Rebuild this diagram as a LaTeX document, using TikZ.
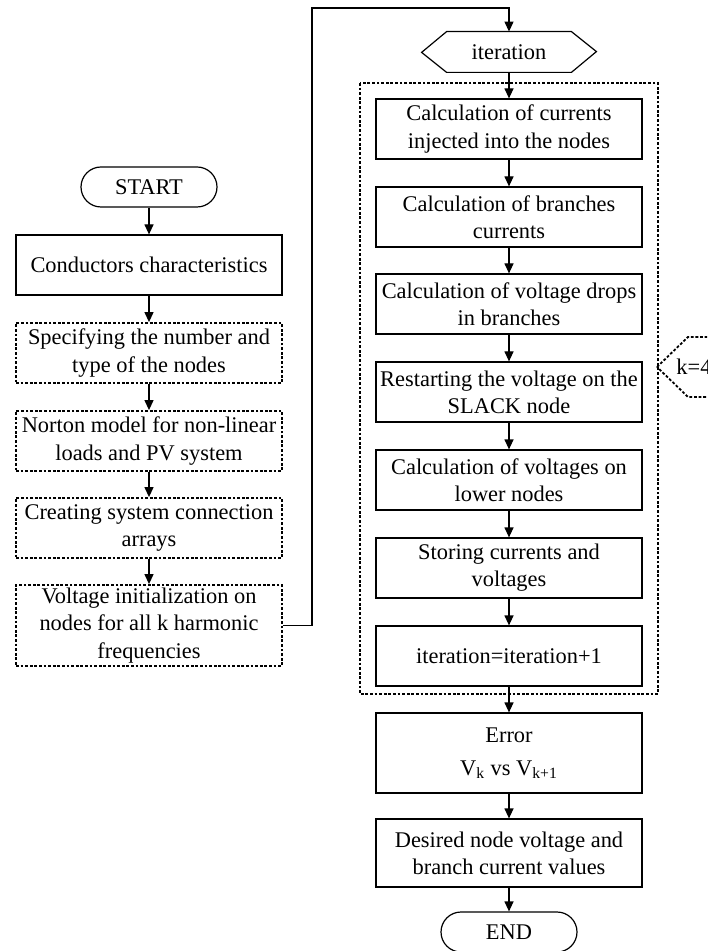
\documentclass[tikz,border=0pt]{standalone}
\usepackage{fontspec}
\setmainfont{Liberation Serif}
\usetikzlibrary{arrows.meta}

\begin{document}
\begin{tikzpicture}[x=0.5pt,y=-0.5pt,
  font=\fontsize{11.2}{13.6}\selectfont,
  every node/.style={align=center,inner sep=0pt},
  term/.style={rectangle,draw,line width=0.6pt,minimum width=68pt,minimum height=20pt,rounded corners=10pt},
  box/.style={rectangle,draw,line width=0.6pt,minimum width=133pt,minimum height=30pt},
  dotbox/.style={rectangle,draw,line width=0.9pt,dash pattern=on 1.4pt off 0.9pt,minimum width=133pt,minimum height=30pt},
  frame/.style={line width=0.9pt,dash pattern=on 1.4pt off 0.9pt},
  arr/.style={line width=0.6pt,-{Triangle[length=5pt,width=4.5pt]}}
  ]

\useasboundingbox (0,0) rectangle (707,951);
\clip (0,0) rectangle (707,951);

% left column
\node[term] (start) at (149,187) {START};
\node[box] (cond) at (149,265) {Conductors characteristics};
\node[dotbox] (spec) at (149,353) {Specifying the number and\\type of the nodes};
\node[dotbox] (norton) at (149,441) {Norton model for non-linear\\loads and PV system};
\node[dotbox] (creat) at (149,528) {Creating system connection\\arrays};
\node[dotbox,minimum height=40.5pt] (volt) at (149,625.5) {Voltage initialization on\\nodes for all k harmonic\\frequencies};

% right column
\node[minimum width=62pt,minimum height=20pt] (iter) at (509,52) {iteration};
\draw[line width=0.6pt] (iter.north west) -- (iter.north east) -- ++(25,20) -- (iter.south east)
  -- (iter.south west) -- ++(-25,-20) -- cycle;

\draw[frame] (360,83) rectangle (658,694);

\node[box] (calc) at (509,129) {Calculation of currents\\injected into the nodes};
\node[box] (branch) at (509,217) {Calculation of branches\\currents};
\node[box] (drops) at (509,304) {Calculation of voltage drops\\in branches};
\node[box] (slack) at (509,392) {Restarting the voltage on the\\SLACK node};
\node[box] (lower) at (509,480) {Calculation of voltages on\\lower nodes};
\node[box] (store) at (509,568) {Storing currents and\\voltages};
\node[box] (incr) at (509,656) {iteration=iteration+1};
\node[box,minimum height=40pt] (error) at (509,753) {Error\\[3pt]V\textsubscript{k} vs V\textsubscript{k+1}};
\node[box,minimum height=34pt] (result) at (509,853) {Desired node voltage and\\branch current values};
\node[term] (end) at (509,932) {END};

% k loop label
\node (kfour) at (694,367) {k=4};
\draw[frame] (657,367) -- (688,337) -- (745,337) -- (776,367) -- (745,397) -- (688,397) -- cycle;

% connectors
\draw[arr] (start) -- (cond);
\draw[arr] (cond) -- (spec);
\draw[arr] (spec) -- (norton);
\draw[arr] (norton) -- (creat);
\draw[arr] (creat) -- (volt);
\coordinate (top) at (312,8);
\draw[arr] (volt.east) -| (top) -| (iter.north);
\draw[arr] (iter) -- (calc);
\draw[arr] (calc) -- (branch);
\draw[arr] (branch) -- (drops);
\draw[arr] (drops) -- (slack);
\draw[arr] (slack) -- (lower);
\draw[arr] (lower) -- (store);
\draw[arr] (store) -- (incr);
\draw[arr] (incr) -- (error);
\draw[arr] (error) -- (result);
\draw[arr] (result) -- (end);

\end{tikzpicture}
\end{document}
